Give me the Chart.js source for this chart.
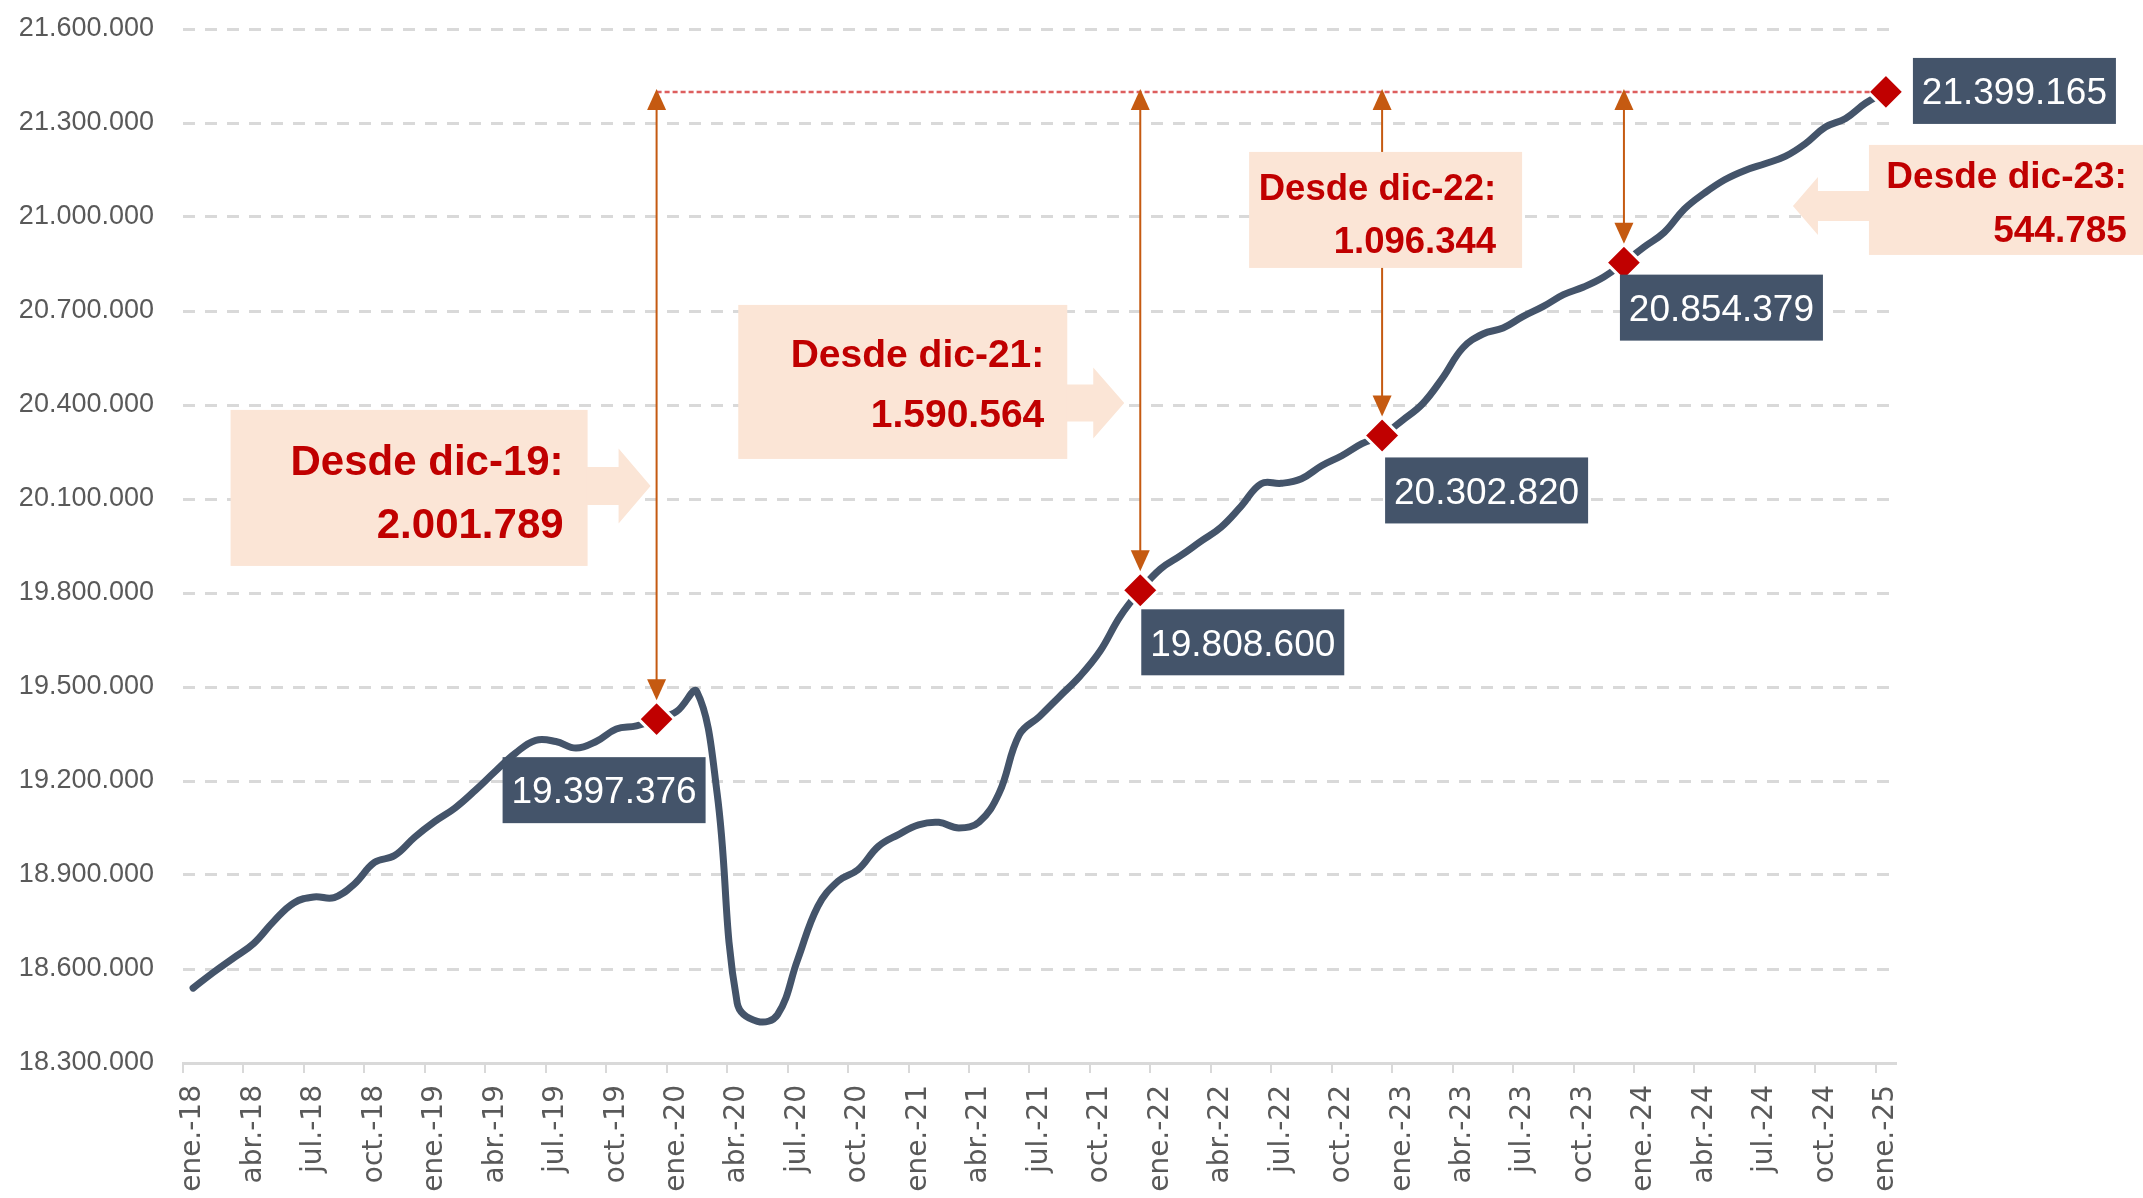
<!DOCTYPE html>
<html>
<head>
<meta charset="utf-8">
<script src="https://cdn.jsdelivr.net/npm/chart.js@4.4.1/dist/chart.umd.min.js"></script>
<style>
html,body{margin:0;padding:0;background:#ffffff;}
#wrap{width:2143px;height:1198px;position:relative;}
</style>
</head>
<body>
<div id="wrap"><canvas id="c"></canvas></div>
<script>
// ---------- DATA ----------
const categories = [
 "ene.-18","feb.-18","mar.-18","abr.-18","may.-18","jun.-18","jul.-18","ago.-18","sep.-18","oct.-18","nov.-18","dic.-18",
 "ene.-19","feb.-19","mar.-19","abr.-19","may.-19","jun.-19","jul.-19","ago.-19","sep.-19","oct.-19","nov.-19","dic.-19",
 "ene.-20","feb.-20","mar.-20","abr.-20","may.-20","jun.-20","jul.-20","ago.-20","sep.-20","oct.-20","nov.-20","dic.-20",
 "ene.-21","feb.-21","mar.-21","abr.-21","may.-21","jun.-21","jul.-21","ago.-21","sep.-21","oct.-21","nov.-21","dic.-21",
 "ene.-22","feb.-22","mar.-22","abr.-22","may.-22","jun.-22","jul.-22","ago.-22","sep.-22","oct.-22","nov.-22","dic.-22",
 "ene.-23","feb.-23","mar.-23","abr.-23","may.-23","jun.-23","jul.-23","ago.-23","sep.-23","oct.-23","nov.-23","dic.-23",
 "ene.-24","feb.-24","mar.-24","abr.-24","may.-24","jun.-24","jul.-24","ago.-24","sep.-24","oct.-24","nov.-24","dic.-24",
 "ene.-25"
];
const afiliados = [
 18539000,18589000,18635000,18681000,18752000,18811000,18830000,18828000,18871000,18940000,18962000,19021000,
 19071000,19114000,19170000,19231000,19289000,19330000,19326000,19305000,19326000,19366000,19376000,19397376,
 19422000,19485000,19162000,18491000,18433000,18454000,18630000,18800000,18880000,18917000,18991000,19029000,
 19060000,19068000,19050000,19069000,19162000,19348000,19406000,19470000,19534000,19614000,19725000,19808600,
 19876600,19919000,19964700,20009400,20076400,20148800,20150000,20164800,20206300,20238200,20276500,20302820,
 20350900,20403200,20486200,20581900,20626600,20645700,20682800,20714700,20752000,20776600,20808500,20854379,
 20904300,20950900,21025500,21076600,21119000,21148700,21170100,21193400,21233900,21287200,21314700,21363800,
 21399165
];
const yMin = 18300000, yMax = 21600000, yStep = 300000;
const markIdx = [23, 47, 59, 71, 84];
const calloutIdx = [23, 47, 59, 71];
const calloutText = [
 ["Desde dic-19:", "2.001.789"],
 ["Desde dic-21:", "1.590.564"],
 ["Desde dic-22:", "1.096.344"],
 ["Desde dic-23:", "544.785"]
];

// ---------- STYLE ----------
const C_LINE = '#44546A', C_RED = '#C00000', C_ORANGE = '#C55A11', C_PEACH = '#FBE5D6', C_GRID = '#D9D9D9', C_TXT = '#595959';
const calloutStyle = [
 {dx:-426, dy:318, w:357, h:156, size:42, tr:333, b1:65, b2:128, arrow:{dir:'right', base:31, tip:63, cy:76, sh:19, hh:37.5}},
 {dx:-402, dy:213, w:329, h:154, size:39, tr:306, b1:62, b2:122, arrow:{dir:'right', base:26, tip:57, cy:98, sh:18.5, hh:35.5}},
 {dx:-133, dy:60,  w:273, h:116, size:36.5, tr:247, b1:48, b2:101, arrow:null},
 {dx:245,  dy:53,  w:300, h:110, size:37, tr:258, b1:43, b2:97, arrow:{dir:'left', base:51, tip:76, cy:61, sh:15, hh:29}}
];
const labelStyle = [
 {dx:-154, dy:38}, {dx:1, dy:19}, {dx:3, dy:22}, {dx:-4, dy:12}, {dx:27, dy:-34}
];
const LBL_W = 203, LBL_H = 66;

function fmt(v){ return Math.round(v).toString().replace(/\B(?=(\d{3})+(?!\d))/g, '.'); }

const annot = {
 id: 'annot',
 afterDatasetsDraw(chart){
  const ctx = chart.ctx, xs = chart.scales.x, ys = chart.scales.y;
  const px = i => xs.getPixelForValue(i);
  const py = v => ys.getPixelForValue(v);
  const last = afiliados.length - 1;
  const yT = py(afiliados[last]);
  ctx.save();
  // dotted reference line
  ctx.strokeStyle = 'rgba(210,40,40,0.75)';
  ctx.lineWidth = 2.5;
  ctx.setLineDash([5,3]);
  ctx.beginPath(); ctx.moveTo(px(calloutIdx[0]), yT); ctx.lineTo(px(last) - 16, yT); ctx.stroke();
  ctx.setLineDash([]);
  // vertical double arrows
  ctx.strokeStyle = C_ORANGE; ctx.fillStyle = C_ORANGE; ctx.lineWidth = 2;
  calloutIdx.forEach(i => {
   const xx = px(i), top = yT - 3, bot = py(afiliados[i]) - 19;
   ctx.beginPath(); ctx.moveTo(xx, top + 10); ctx.lineTo(xx, bot - 10); ctx.stroke();
   ctx.beginPath(); ctx.moveTo(xx, top); ctx.lineTo(xx - 9.5, top + 21); ctx.lineTo(xx + 9.5, top + 21); ctx.closePath(); ctx.fill();
   ctx.beginPath(); ctx.moveTo(xx, bot); ctx.lineTo(xx - 9.5, bot - 21); ctx.lineTo(xx + 9.5, bot - 21); ctx.closePath(); ctx.fill();
  });
  // callout boxes
  calloutIdx.forEach((i, k) => {
   const s = calloutStyle[k];
   const left = px(i) + s.dx, top = yT + s.dy;
   ctx.fillStyle = C_PEACH;
   ctx.fillRect(left, top, s.w, s.h);
   if (s.arrow){
    const a = s.arrow, cy = top + a.cy;
    ctx.beginPath();
    if (a.dir === 'right'){
     const r = left + s.w;
     ctx.moveTo(r - 1, cy - a.sh); ctx.lineTo(r + a.base, cy - a.sh); ctx.lineTo(r + a.base, cy - a.hh);
     ctx.lineTo(r + a.tip, cy); ctx.lineTo(r + a.base, cy + a.hh); ctx.lineTo(r + a.base, cy + a.sh); ctx.lineTo(r - 1, cy + a.sh);
    } else {
     ctx.moveTo(left + 1, cy - a.sh); ctx.lineTo(left - a.base, cy - a.sh); ctx.lineTo(left - a.base, cy - a.hh);
     ctx.lineTo(left - a.tip, cy); ctx.lineTo(left - a.base, cy + a.hh); ctx.lineTo(left - a.base, cy + a.sh); ctx.lineTo(left + 1, cy + a.sh);
    }
    ctx.closePath(); ctx.fill();
   }
   ctx.fillStyle = C_RED;
   ctx.font = 'bold ' + s.size + 'px "Liberation Sans", Arial, sans-serif';
   ctx.textAlign = 'right'; ctx.textBaseline = 'alphabetic';
   ctx.fillText(calloutText[k][0], left + s.tr, top + s.b1);
   ctx.fillText(calloutText[k][1], left + s.tr, top + s.b2);
  });
  // value labels
  markIdx.forEach((i, k) => {
   const s = labelStyle[k];
   const x0 = px(i) + s.dx, y0 = py(afiliados[i]) + s.dy;
   ctx.fillStyle = C_LINE;
   ctx.fillRect(x0, y0, LBL_W, LBL_H);
   ctx.fillStyle = '#FFFFFF';
   ctx.font = '37px "Liberation Sans", Arial, sans-serif';
   ctx.textAlign = 'center'; ctx.textBaseline = 'alphabetic';
   ctx.fillText(fmt(afiliados[i]), x0 + LBL_W / 2, y0 + LBL_H / 2 + 13.3);
  });
  ctx.restore();
 }
};

new Chart(document.getElementById('c'), {
 type: 'line',
 data: {
  labels: categories,
  datasets: [{
   data: afiliados,
   borderColor: C_LINE,
   borderWidth: 7,
   borderCapStyle: 'round',
   borderJoinStyle: 'round',
   tension: 0.4,
   fill: false,
   clip: false,
   pointStyle: 'rectRot',
   pointRadius: c => markIdx.includes(c.dataIndex) ? 18 : 0,
   pointHoverRadius: c => markIdx.includes(c.dataIndex) ? 18 : 0,
   pointBackgroundColor: C_RED,
   pointBorderColor: '#FFFFFF',
   pointBorderWidth: 3
  }]
 },
 options: {
  responsive: true,
  maintainAspectRatio: false,
  animation: false,
  layout: { padding: { top: 29, right: 247, left: 0, bottom: 0 } },
  plugins: { legend: { display: false }, tooltip: { enabled: false } },
  events: [],
  scales: {
   x: {
    type: 'category',
    offset: true,
    afterFit: s => { s.height = 135; },
    grid: {
     offset: true,
     drawOnChartArea: false,
     drawTicks: true,
     tickLength: 10,
     lineWidth: 2,
     color: c => (c.index !== undefined && c.index % 3 === 0) ? C_GRID : 'rgba(0,0,0,0)'
    },
    border: { display: true, color: C_GRID, width: 3 },
    ticks: {
     autoSkip: false,
     minRotation: 90,
     maxRotation: 90,
     padding: 12,
     color: C_TXT,
     font: { family: '"DejaVu Sans", sans-serif', size: 28 },
     callback: function(v, i){ return i % 3 === 0 ? this.getLabelForValue(v) : ''; }
    }
   },
   y: {
    min: yMin, max: yMax,
    afterFit: s => { s.width = 183; s.paddingTop = 0; s.paddingBottom = 0; },
    grid: { color: C_GRID, lineWidth: 3, drawTicks: false },
    border: { display: false, dash: [12, 10] },
    ticks: {
     stepSize: yStep,
     padding: 29,
     color: C_TXT,
     font: { family: '"Liberation Sans", Arial, sans-serif', size: 27 },
     callback: v => fmt(v)
    }
   }
  }
 },
 plugins: [annot]
});
</script>
</body>
</html>
